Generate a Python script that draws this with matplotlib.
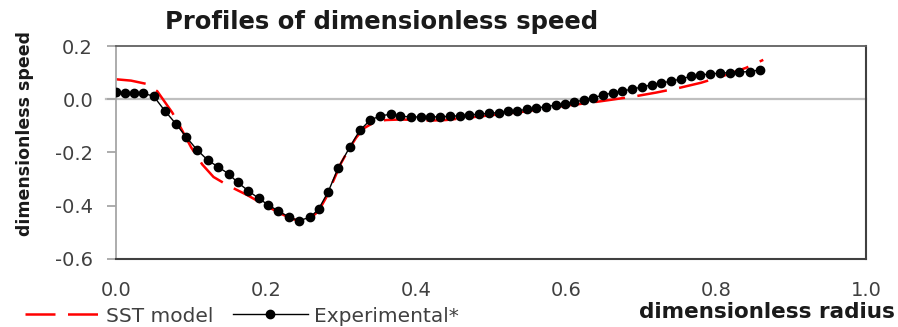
import matplotlib
matplotlib.use('Agg')
import matplotlib.pyplot as plt
from matplotlib.ticker import MultipleLocator

plt.rcParams['font.family'] = ['DejaVu Sans']

# experimental points (dimensionless radius, dimensionless speed)
exp_r = [0.000, 0.012, 0.024, 0.036, 0.050, 0.065, 0.080, 0.093, 0.108, 0.122,
         0.136, 0.150, 0.162, 0.176, 0.190, 0.203, 0.216, 0.231, 0.244, 0.259,
         0.270, 0.283, 0.296, 0.312, 0.325, 0.339, 0.352, 0.366, 0.379, 0.393,
         0.406, 0.419, 0.432, 0.445, 0.458, 0.471, 0.484, 0.497, 0.510, 0.522,
         0.535, 0.548, 0.560, 0.573, 0.586, 0.599, 0.611, 0.624, 0.636, 0.649,
         0.662, 0.675, 0.688, 0.701, 0.714, 0.727, 0.740, 0.753, 0.766, 0.779,
         0.792, 0.805, 0.818, 0.831, 0.845, 0.858]
exp_u = [0.027, 0.022, 0.022, 0.022, 0.012, -0.043, -0.093, -0.140, -0.190, -0.228,
         -0.254, -0.280, -0.312, -0.343, -0.372, -0.397, -0.419, -0.443, -0.456, -0.443,
         -0.413, -0.347, -0.259, -0.178, -0.117, -0.078, -0.063, -0.056, -0.064, -0.066,
         -0.067, -0.066, -0.066, -0.064, -0.062, -0.059, -0.056, -0.053, -0.050, -0.046,
         -0.043, -0.038, -0.033, -0.028, -0.022, -0.016, -0.010, -0.003, 0.006, 0.015,
         0.024, 0.031, 0.038, 0.046, 0.054, 0.061, 0.068, 0.076, 0.086, 0.091,
         0.095, 0.098, 0.100, 0.102, 0.104, 0.110]

# SST model curve
sst_r = [0.000, 0.020, 0.040, 0.055, 0.065, 0.075, 0.085, 0.100, 0.115, 0.130,
         0.150, 0.175, 0.200, 0.220, 0.235, 0.248, 0.260, 0.270, 0.280, 0.290,
         0.300, 0.310, 0.320, 0.330, 0.345, 0.360, 0.380, 0.400, 0.420, 0.440,
         0.460, 0.480, 0.500, 0.520, 0.540, 0.560, 0.580, 0.600, 0.630, 0.660,
         0.690, 0.720, 0.750, 0.780, 0.810, 0.840, 0.863]
sst_u = [0.075, 0.070, 0.058, 0.030, -0.010, -0.050, -0.100, -0.180, -0.245, -0.292,
         -0.325, -0.360, -0.400, -0.430, -0.450, -0.458, -0.445, -0.420, -0.370, -0.305,
         -0.240, -0.190, -0.145, -0.110, -0.085, -0.078, -0.076, -0.078, -0.080, -0.078,
         -0.072, -0.066, -0.060, -0.054, -0.048, -0.040, -0.032, -0.024, -0.014, -0.002,
         0.010, 0.025, 0.042, 0.062, 0.088, 0.118, 0.148]

fig = plt.figure(figsize=(8.98, 3.27), dpi=100)
ax = fig.add_axes([0.1292, 0.2080, 0.8352, 0.6513])

# zero line (horizontal axis crossing at 0)
ax.axhline(0, xmin=-0.0133, xmax=1, color='#bfbfbf', lw=1.6, clip_on=False, zorder=1)

ax.plot(sst_r, sst_u, color='#ff0000', lw=1.8, dashes=(12, 5), label='SST model', zorder=2)
ax.plot(exp_r, exp_u, color='black', lw=1.0, marker='o', markersize=6,
        label='Experimental*', zorder=3)

ax.set_xlim(0, 1.0)
ax.set_ylim(-0.6, 0.2)
ax.xaxis.set_major_locator(MultipleLocator(0.2))
ax.yaxis.set_major_locator(MultipleLocator(0.2))
ax.xaxis.set_major_formatter(lambda v, p: '%.1f' % v)
ax.yaxis.set_major_formatter(lambda v, p: '%.1f' % v)

ax.tick_params(axis='x', length=0, pad=16, labelsize=14, labelcolor='#404040')
ax.tick_params(axis='y', direction='out', length=6.5, width=1.3, color='#a6a6a6',
               pad=10, labelsize=14, labelcolor='#404040')

ax.spines['left'].set_color('#a6a6a6')
ax.spines['left'].set_linewidth(1.3)
ax.spines['bottom'].set_color('#404040')
ax.spines['bottom'].set_linewidth(1.5)
ax.spines['top'].set_color('#606060')
ax.spines['top'].set_linewidth(1.3)
ax.spines['right'].set_color('#404040')
ax.spines['right'].set_linewidth(1.5)

ax.set_ylabel('dimensionless speed', fontsize=12.5, fontweight='bold', color='#1a1a1a')
ax.yaxis.set_label_coords(-0.11, 0.59)

fig.text(382 / 898, 1 - 22 / 327, 'Profiles of dimensionless speed', ha='center', va='center',
         fontsize=17.5, fontweight='bold', color='#1a1a1a')
fig.text(895 / 898, 1 - 312 / 327, 'dimensionless radius', ha='right', va='center',
         fontsize=15.5, fontweight='bold', color='#1a1a1a')

leg = ax.legend(loc='center left', bbox_to_anchor=(25 / 898, 1 - 316 / 327),
                bbox_transform=fig.transFigure, ncol=2, frameon=False, fontsize=14.5,
                handlelength=3.7, handletextpad=0.3, columnspacing=1.0,
                borderpad=0, borderaxespad=0, markerscale=1.0)
for t in leg.get_texts():
    t.set_color('#404040')

fig.savefig('out.png', dpi=100)
